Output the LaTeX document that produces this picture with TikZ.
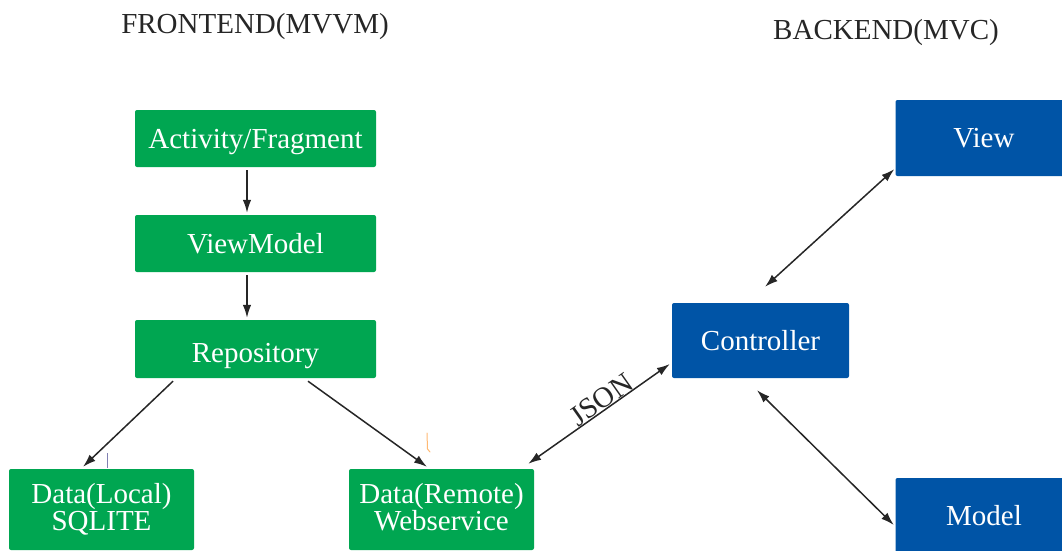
\documentclass[tikz,border=0pt]{standalone}
\usepackage{fontspec}
\setmainfont{Liberation Serif}
\usetikzlibrary{arrows.meta}
\definecolor{mvvmgreen}{RGB}{0,166,81}
\definecolor{mvcblue}{RGB}{0,84,166}
\begin{document}
\begin{tikzpicture}[x=1pt,y=-1pt,
  box/.style={rectangle, rounded corners=2pt, text=white, inner sep=0pt,
    font=\fontsize{29}{27}\selectfont, align=center,
    text height=19pt, text depth=0pt},
  greenbox/.style={box, fill=mvvmgreen},
  layerbox/.style={greenbox, minimum width=241pt, minimum height=57pt},
  sourcebox/.style={greenbox, minimum width=185pt, minimum height=81pt,
    text height=41pt},
  bluebox/.style={box, fill=mvcblue, minimum width=177pt, minimum height=75pt},
  link/.style={line width=1.5pt, draw=black!85, -{Latex[length=13pt,width=8.5pt]}},
  twoway/.style={line width=1.5pt, draw=black!85,
    {Latex[length=13pt,width=8.5pt]}-{Latex[length=13pt,width=8.5pt]}},
  heading/.style={font=\fontsize{29}{32}\selectfont, text=black!85, inner sep=0pt}]
\useasboundingbox (0,0) rectangle (1062,550);
\clip (0,0) rectangle (1062,550);

% headings
\node[heading] (fronttitle) at (255,27) {FRONTEND(MVVM)};
\node[heading] (backtitle) at (886,33) {BACKEND(MVC)};

% frontend (MVVM) layers
\node[layerbox] (act) at (255.5,138.5) {Activity/Fragment};
\node[layerbox] (vm) at (255.5,243.5) {ViewModel};
\node[layerbox, minimum height=58pt] (repo) at (255.5,349) {\raisebox{-4pt}{Repository}};
\node[sourcebox] (local) at (101.5,509.5) {Data(Local)\\SQLITE};
\node[sourcebox] (remote) at (441.5,509.5) {Data(Remote)\\Webservice};

% backend (MVC) parts
\node[bluebox, minimum height=76pt] (view) at (984,138) {View};
\node[bluebox] (ctrl) at (760.5,340.5) {Controller};
\node[bluebox] (model) at (984,515.5) {Model};

% frontend flow
\draw[link] ([xshift=-8.5pt,yshift=-3pt]act.south) -- ([xshift=-8.5pt,yshift=2pt]vm.north);
\draw[link] ([xshift=-8.5pt,yshift=-3pt]vm.south) -- ([xshift=-8.5pt,yshift=2pt]repo.north);
\draw[link] ([xshift=-82.5pt,yshift=-3pt]repo.south) -- ([xshift=-18.5pt,yshift=2pt]local.north);
\draw[link] ([xshift=52.5pt,yshift=-3pt]repo.south) -- ([xshift=-14.5pt,yshift=2pt]remote.north);

% remote data exchanged with the backend
\draw[twoway] ([xshift=-6pt,yshift=5pt]remote.north east) --
  node[sloped, above=0pt, pos=0.56, inner sep=1pt, heading] (json) {JSON}
  ([xshift=-2pt,yshift=-23.5pt]ctrl.west);

% backend relations
\draw[twoway] ([xshift=4.5pt,yshift=16pt]ctrl.north) -- ([xshift=-1pt,yshift=7pt]view.south west);
\draw[twoway] ([xshift=-3.5pt,yshift=-12pt]ctrl.south) -- ([xshift=-1.5pt,yshift=-9.5pt]model.west);

% small stray pen strokes
\draw[line width=0.9pt, draw=black!60!blue!50] (107,453) -- (107,468);
\draw[line width=1pt, draw=orange!55, line cap=round] (427,433) -- (427.5,449) -- (430,452);
\end{tikzpicture}
\end{document}
